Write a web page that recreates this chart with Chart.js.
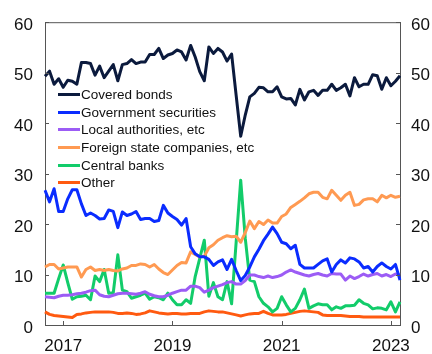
<!DOCTYPE html>
<html>
<head>
<meta charset="utf-8">
<script src="https://cdn.jsdelivr.net/npm/chart.js@4.4.0/dist/chart.umd.min.js"></script>
<style>
  html, body { margin: 0; padding: 0; background: #fff; }
  #wrap { position: relative; width: 432px; height: 354px; overflow: hidden; }
  #legend { position: absolute; left: 58px; top: 85.5px; font: 13.5px "Liberation Sans", Arial, sans-serif; color: #111; }
  .item { height: 17.7px; display: flex; align-items: center; white-space: nowrap; }
  .swatch { width: 22px; height: 3px; margin-right: 1px; }
</style>
</head>
<body>
<div id="wrap">
  <canvas id="chart" width="432" height="354"></canvas>
  <div id="legend"></div>
</div>
<script>
// Monthly data, Sep 2016 - Mar 2023 (per cent)
const startYear = 2016, startMonth = 9, nMonths = 79;
const months = [];
for (let i = 0; i < nMonths; i++) {
    const m = startMonth - 1 + i;
    const y = startYear + Math.floor(m / 12);
    months.push(y + '-' + String(m % 12 + 1).padStart(2, '0'));
}
const yearTicks = ['2017', '2019', '2021', '2023'];
const yTicks = [0, 10, 20, 30, 40, 50, 60];

const coveredBonds = [
    49.3, 50.3, 47.7, 48.8, 47.1, 48.5, 48.3, 47.7, 52.0, 52.0,
    51.8, 49.5, 51.3, 49.0, 50.3, 51.6, 48.4, 51.6, 51.8, 52.6,
    51.8, 52.1, 52.1, 53.6, 53.6, 54.8, 52.8, 53.5, 53.8, 54.5,
    54.1, 52.5, 55.4, 53.1, 50.2, 48.4, 55.1, 53.8, 54.8, 54.1,
    52.3, 53.7, 45.5, 37.4, 41.6, 45.2, 45.9, 47.1, 47.0, 46.2,
    46.2, 47.2, 45.2, 44.8, 44.9, 43.6, 46.7, 44.6, 46.2, 46.5,
    45.5, 46.5, 46.5, 47.7, 46.5, 47.0, 47.7, 45.4, 49.0, 47.2,
    47.7, 47.7, 49.6, 49.4, 46.7, 49.0, 47.4, 48.3, 49.4
];
const govSecurities = [
    26.7, 24.4, 27.0, 22.5, 22.5, 25.0, 26.8, 26.8, 24.0, 21.7,
    22.2, 21.7, 21.0, 21.1, 22.8, 22.5, 19.3, 22.4, 21.7, 22.0,
    22.5, 20.9, 21.1, 21.1, 20.5, 20.7, 23.7, 22.2, 21.5, 20.9,
    19.8, 21.1, 15.5, 14.1, 13.5, 13.5, 13.0, 11.8, 12.5, 12.9,
    11.0, 13.0, 10.8, 8.8, 9.8, 11.5, 13.5, 15.0, 16.7, 18.0,
    19.4, 18.1, 16.4, 16.1, 15.1, 15.8, 12.0, 11.3, 11.3, 11.3,
    12.0, 12.7, 13.1, 10.5, 12.0, 12.9, 12.3, 13.3, 13.1, 12.5,
    11.3, 11.6, 10.5, 11.6, 12.3, 11.6, 11.1, 12.0, 8.9
];
const localAuthorities = [
    5.6, 5.5, 5.4, 5.7, 5.9, 5.9, 6.0, 6.2, 6.3, 6.5,
    6.8, 6.9, 6.0, 5.7, 5.6, 5.9, 6.2, 6.3, 6.3, 6.2,
    6.1, 6.3, 6.6, 6.1, 5.8, 5.6, 5.6, 5.9, 6.3, 6.6,
    6.9, 6.9, 7.7, 7.7, 7.4, 6.5, 6.9, 7.4, 7.7, 8.0,
    8.4, 8.6, 8.1, 8.1, 8.8, 9.9, 9.9, 9.6, 9.4, 9.7,
    9.4, 9.6, 9.9, 10.5, 10.9, 10.5, 10.2, 9.9, 9.7, 10.0,
    10.2, 9.9, 9.7, 10.2, 10.1, 10.1, 8.9, 9.7, 9.2, 9.6,
    10.1, 9.7, 10.0, 10.2, 9.7, 10.0, 9.6, 10.1, 9.9
];
const foreignState = [
    11.5, 12.0, 12.0, 11.1, 11.3, 11.5, 11.5, 11.5, 9.5, 11.0,
    11.5, 10.8, 11.0, 10.8, 11.0, 10.8, 10.7, 11.1, 11.3, 11.8,
    11.8, 12.1, 12.0, 11.5, 12.0, 11.1, 10.4, 10.0, 10.9, 11.8,
    12.4, 12.3, 14.5, 14.0, 13.5, 13.6, 15.3, 15.9, 16.8, 17.3,
    17.7, 17.5, 17.6, 16.4, 18.3, 20.6, 19.1, 20.5, 19.9, 20.8,
    20.2, 20.2, 21.5, 22.0, 23.3, 23.9, 24.5, 25.2, 26.0, 26.3,
    26.3, 25.3, 25.0, 26.7, 25.7, 24.7, 25.7, 26.3, 23.7, 23.9,
    24.8, 25.0, 25.0, 24.4, 25.7, 25.2, 25.7, 25.3, 25.5
];
const centralBanks = [
    6.3, 6.3, 6.3, 9.2, 11.9, 8.4, 5.1, 5.6, 5.7, 5.9,
    5.0, 9.7, 8.6, 11.0, 6.3, 6.4, 13.9, 6.9, 6.6, 5.3,
    5.6, 5.9, 6.3, 5.1, 5.6, 5.4, 5.0, 6.3, 5.0, 4.0,
    4.0, 5.0, 4.3, 9.6, 13.2, 16.8, 5.7, 8.4, 5.6, 5.0,
    8.6, 4.2, 16.4, 28.7, 17.2, 8.9, 8.6, 5.6, 4.3, 3.6,
    2.6, 3.3, 5.6, 4.0, 2.6, 3.3, 5.0, 7.1, 3.3, 3.8,
    4.2, 4.0, 4.0, 3.0, 3.6, 3.3, 3.8, 3.8, 3.9, 5.0,
    4.3, 4.0, 3.2, 3.4, 3.3, 3.0, 4.6, 2.6, 4.6
];
const other = [
    2.6, 2.1, 1.9, 1.8, 1.7, 1.6, 1.5, 2.1, 2.2, 2.4,
    2.5, 2.6, 2.6, 2.6, 2.6, 2.5, 2.3, 2.3, 2.4, 2.3,
    2.1, 2.2, 2.4, 2.8, 2.6, 2.4, 2.3, 2.2, 2.3, 2.3,
    2.2, 2.2, 2.3, 2.3, 2.3, 2.6, 2.8, 2.7, 2.6, 2.6,
    2.4, 2.2, 2.0, 1.8, 2.0, 2.2, 2.3, 2.3, 2.7, 2.3,
    2.0, 2.0, 2.0, 2.1, 2.3, 2.5, 2.7, 2.8, 2.7, 2.6,
    2.5, 2.0, 1.9, 1.9, 1.9, 1.9, 1.8, 1.7, 1.7, 1.7,
    1.6, 1.6, 1.6, 1.6, 1.6, 1.6, 1.6, 1.6, 1.6
];

const series = [
    { label: 'Covered bonds', data: coveredBonds, color: '#0b1a3d' },
    { label: 'Government securities', data: govSecurities, color: '#0a2cff' },
    { label: 'Local authorities, etc', data: localAuthorities, color: '#9c5cf5' },
    { label: 'Foreign state companies, etc', data: foreignState, color: '#ff9a52' },
    { label: 'Central banks', data: centralBanks, color: '#12cc6a' },
    { label: 'Other', data: other, color: '#ff5a10' }
];

const axisColor = '#555';
const tickFont = { family: '"Liberation Sans", Arial, sans-serif', size: 17 };

// frame on top + inward tick marks
const framePlugin = {
    id: 'frame',
    afterDraw(chart) {
        const { ctx, chartArea: a, scales } = chart;
        ctx.save();
        ctx.strokeStyle = axisColor;
        ctx.lineWidth = 1;
        ctx.beginPath();
        ctx.moveTo(a.left, a.top + 0.5);
        ctx.lineTo(a.right, a.top + 0.5);
        yTicks.forEach(v => {
            const y = Math.round(scales.y.getPixelForValue(v)) + 0.5;
            ctx.moveTo(a.left, y); ctx.lineTo(a.left + 4, y);
            ctx.moveTo(a.right, y); ctx.lineTo(a.right - 4, y);
        });
        months.forEach((m, i) => {
            if (m.endsWith('-01') && yearTicks.includes(m.slice(0, 4))) {
                const x = Math.round(scales.x.getPixelForValue(i)) + 0.5;
                ctx.moveTo(x, a.bottom); ctx.lineTo(x, a.bottom - 4);
            }
        });
        ctx.stroke();
        ctx.restore();
    }
};

new Chart(document.getElementById('chart'), {
    type: 'line',
    data: {
        labels: months,
        datasets: series.map(s => ({
            label: s.label,
            data: s.data,
            borderColor: s.color,
            backgroundColor: s.color,
            borderWidth: 3,
            pointRadius: 0,
            tension: 0,
            borderJoinStyle: 'round',
            yAxisID: 'y'
        }))
    },
    options: {
        responsive: false,
        animation: false,
        layout: { padding: { top: 22, left: 0, right: 0, bottom: 0 } },
        plugins: { legend: { display: false }, tooltip: { enabled: false } },
        scales: {
            x: {
                type: 'category',
                offset: false,
                grid: { display: false, drawTicks: false },
                border: { display: true, color: axisColor },
                ticks: {
                    autoSkip: false, maxRotation: 0, padding: 11, color: '#111', font: tickFont,
                    callback(val) {
                        const m = months[val];
                        return (m.endsWith('-01') && yearTicks.includes(m.slice(0, 4))) ? m.slice(0, 4) : '';
                    }
                },
                afterFit(scale) { scale.height = 29; }
            },
            y: {
                position: 'left',
                min: 0, max: 60,
                grid: { display: false, drawTicks: false },
                border: { display: true, color: axisColor },
                ticks: { stepSize: 10, padding: 12, labelOffset: 3, color: '#111', font: tickFont },
                afterFit(scale) { scale.width = 45; }
            },
            y2: {
                position: 'right',
                min: 0, max: 60,
                grid: { display: false, drawTicks: false },
                border: { display: true, color: axisColor },
                ticks: { stepSize: 10, padding: 11, labelOffset: 3, color: '#111', font: tickFont },
                afterFit(scale) { scale.width = 32; }
            }
        }
    },
    plugins: [framePlugin]
});

// legend inside plot area
const legend = document.getElementById('legend');
series.forEach(s => {
    const row = document.createElement('div');
    row.className = 'item';
    row.innerHTML = `<span class="swatch" style="background:${s.color}"></span><span>${s.label}</span>`;
    legend.appendChild(row);
});
</script>
</body>
</html>
